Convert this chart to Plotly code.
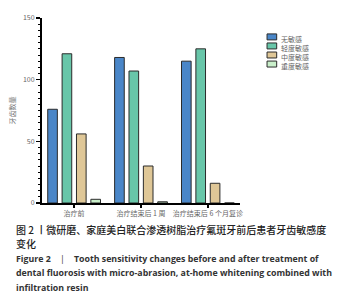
import plotly.graph_objects as go

categories = ["治疗前", "治疗结束后 1 周", "治疗结束后 6 个月复诊"]
series_names = ["无敏感", "轻度敏感", "中度敏感", "重度敏感"]
none_vals = [76, 118, 115]
mild_vals = [121, 107, 125]
moderate_vals = [56, 30, 16]
severe_vals = [3, 1, 0]
series_values = [none_vals, mild_vals, moderate_vals, severe_vals]
colors = ["#4a86c8", "#68c6a9", "#dfc797", "#c9efca"]
yticks = [0, 50, 100, 150]

W, H = 337, 300
L, R, T, B = 35, 97, 17, 97
PW, PH = W - L - R, H - T - B

def px(x):
    return (x - L) / PW

def py(y):
    return (H - B - y) / PH

fig = go.Figure()
for name, vals, c in zip(series_names, series_values, colors):
    fig.add_trace(go.Bar(
        x=categories, y=vals, name=name,
        marker=dict(color=c, line=dict(color="#2b2b2b", width=1)),
        showlegend=False,
    ))

CJK = "Noto Sans CJK SC"
fig.update_layout(
    width=W, height=H,
    margin=dict(l=L, r=R, t=T, b=B, pad=0),
    paper_bgcolor="white", plot_bgcolor="white",
    barmode="group", bargap=0.14, bargroupgap=0.33,
    font=dict(family=CJK, size=7, color="#555555"),
    xaxis=dict(
        range=[-0.48, 2.48], showline=True, linecolor="black", linewidth=2,
        ticks="outside", ticklen=3, tickwidth=1.5, tickcolor="black",
        tickfont=dict(size=7, color="#666666", family=CJK),
        showgrid=False, zeroline=False, fixedrange=True,
    ),
    yaxis=dict(
        range=[0, 150], tickvals=yticks, showline=True, linecolor="black", linewidth=2,
        ticks="outside", ticklen=4, tickwidth=1.5, tickcolor="black",
        minor=dict(dtick=5, ticks="outside", ticklen=2.5, tickwidth=1, tickcolor="black", showgrid=False),
        tickfont=dict(size=7, color="#666666", family=CJK),
        showgrid=False, zeroline=False, fixedrange=True,
        title=dict(text="牙齿数量", font=dict(size=7, color="#777777", family=CJK), standoff=6),
    ),
)

# custom compact legend: one text block, swatches aligned to its lines
leg_font = 7
line_h = leg_font * 1.3
leg_top = 36 - line_h / 2
for i, c in enumerate(colors):
    yy = leg_top + line_h * (i + 0.5)
    fig.add_shape(type="rect", xref="paper", yref="paper",
                  x0=px(268), x1=px(278), y0=py(yy + 3), y1=py(yy - 3),
                  fillcolor=c, line=dict(color="#2b2b2b", width=1))
fig.add_annotation(xref="paper", yref="paper", x=px(280), y=py(leg_top),
                   text="<br>".join(series_names), showarrow=False,
                   xanchor="left", yanchor="top", align="left",
                   font=dict(size=leg_font, color="#666666", family=CJK))

caption_cn = [("图 2 丨微研磨、家庭美白联合渗透树脂治疗氟斑牙前后患者牙齿敏感度", 229.5),
              ("变化", 244.2)]
for txt, yy in caption_cn:
    fig.add_annotation(xref="paper", yref="paper", x=px(6), y=py(yy), text=txt,
                       showarrow=False, xanchor="left", yanchor="middle",
                       font=dict(size=10, color="#222222", family=CJK, weight=500))

caption_en = [("<b>Figure 2</b>    |    <b>Tooth sensitivity changes before and after treatment of</b>", 259),
              ("<b>dental fluorosis with micro-abrasion, at-home whitening combined with</b>", 273),
              ("<b>infiltration resin</b>", 288)]
for txt, yy in caption_en:
    fig.add_annotation(xref="paper", yref="paper", x=px(6), y=py(yy), text=txt,
                       showarrow=False, xanchor="left", yanchor="middle",
                       font=dict(size=8.8, color="#333333", family="Open Sans"))

fig.write_html("out.html", config={"displayModeBar": False, "staticPlot": True},
               post_script="document.body.style.margin='0';")
